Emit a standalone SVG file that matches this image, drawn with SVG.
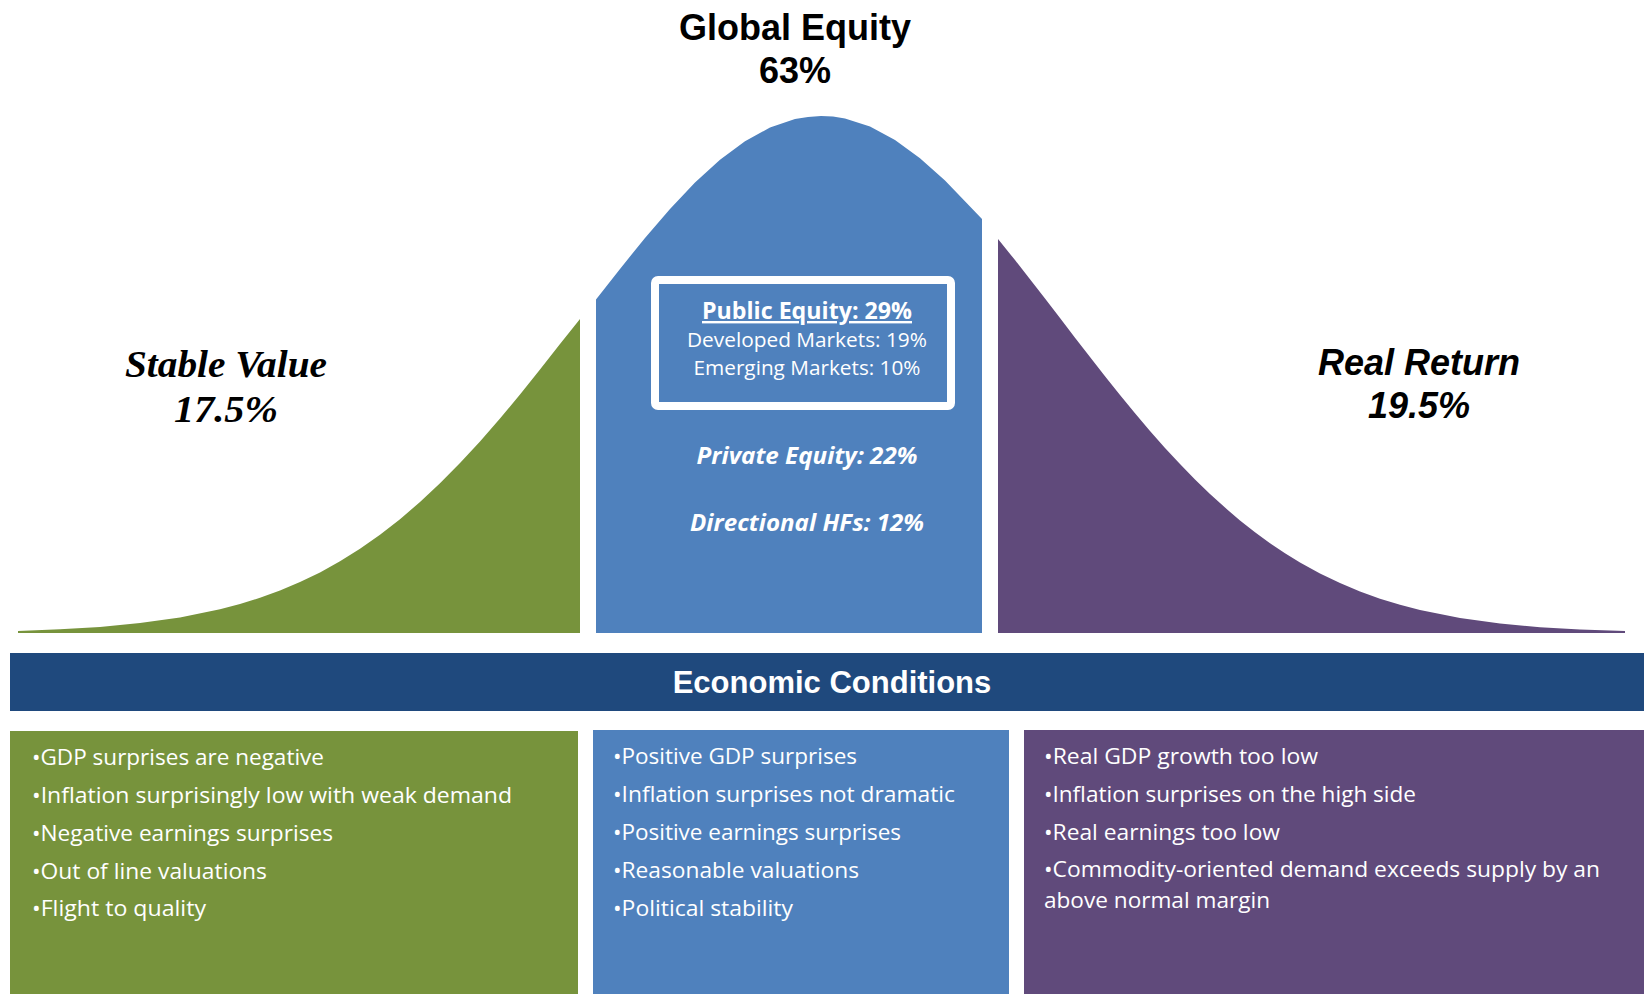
<svg xmlns="http://www.w3.org/2000/svg" width="1644" height="994" viewBox="0 0 1644 994">
<style>
.green{fill:#77933C}
.blue{fill:#4F81BD}
.purple{fill:#604A7B}
.band{fill:#1F497D}
.hdr{font-family:"Liberation Sans",Arial,sans-serif;font-weight:bold;font-size:36px;fill:#000;text-anchor:middle}
.hdri{font-family:"Liberation Sans",Arial,sans-serif;font-weight:bold;font-style:italic;font-size:36px;fill:#000;text-anchor:middle}
.hdrs{font-family:"Liberation Serif","Times New Roman",serif;font-weight:bold;font-style:italic;font-size:38px;fill:#000;text-anchor:middle}
.band-t{font-family:"Liberation Sans",Arial,sans-serif;font-weight:bold;font-size:31px;fill:#fff;text-anchor:middle}
.in{font-family:"Open Sans","Noto Sans",sans-serif;fill:#fff;text-anchor:middle}
.bul{font-family:"Open Sans","Noto Sans",sans-serif;font-size:22px;fill:#fff}
</style>
<rect width="1644" height="994" fill="#fff"/>

<g id="stable-value">
<path class="green" d="M18,631 L60,629.3 L100,626.9 L140,623.1 L180,617.5 L220,609.3 L240,604.1 L260,597.8 L280,590.5 L300,582 L320,572.4 L340,561.3 L360,548.8 L380,534.7 L400,519.2 L420,502 L440,483.3 L460,463.1 L480,441.4 L500,418.5 L520,394.5 L540,369.5 L560,344 L580,319 L580,633 L18,633 Z"/>
<text class="hdrs" x="226" y="377" textLength="202" lengthAdjust="spacingAndGlyphs">Stable Value</text>
<text class="hdrs" x="226" y="422" textLength="104" lengthAdjust="spacingAndGlyphs">17.5%</text>
</g>

<g id="global-equity">
<path class="blue" d="M596,633 L596,299.5 L608,284.2 L620,268.9 L645,237.9 L670,208.9 L695,182.5 L720,159.8 L745,141.3 L770,127.5 L795,119 L808,117 L821,116 L833,116.6 L845,118.6 L870,126.6 L895,140 L920,158.2 L945,180.6 L970,206.6 L982,219 L982,633 Z"/>
<text class="hdr" x="795" y="40">Global Equity</text>
<text class="hdr" x="795" y="83">63%</text>
<rect x="655" y="280" width="296" height="126" rx="3" fill="none" stroke="#fff" stroke-width="8"/>
<text class="in" x="807" y="319" font-size="24" font-weight="bold" text-decoration="underline" textLength="210" lengthAdjust="spacingAndGlyphs">Public Equity: 29%</text>
<text class="in" x="807" y="347" font-size="20.5" textLength="240" lengthAdjust="spacingAndGlyphs">Developed Markets: 19%</text>
<text class="in" x="807" y="375" font-size="20.5" textLength="227" lengthAdjust="spacingAndGlyphs">Emerging Markets: 10%</text>
<text class="in" x="807" y="464" font-size="23" font-weight="bold" font-style="italic" textLength="221" lengthAdjust="spacingAndGlyphs">Private Equity: 22%</text>
<text class="in" x="807" y="531" font-size="23" font-weight="bold" font-style="italic" textLength="234" lengthAdjust="spacingAndGlyphs">Directional HFs: 12%</text>
</g>

<g id="real-return">
<path class="purple" d="M998,239 L1015,260.1 L1030,279.2 L1045,298.6 L1060,318.1 L1075,337.7 L1090,357.1 L1105,376.3 L1120,395.1 L1135,413.3 L1150,431 L1165,447.9 L1180,464.1 L1195,479.5 L1210,494 L1225,507.6 L1240,520.4 L1255,532.2 L1270,543.2 L1285,553.2 L1300,562.4 L1320,573.4 L1340,583.1 L1360,591.5 L1380,598.7 L1400,604.8 L1420,610 L1460,618.1 L1500,623.5 L1540,627.2 L1580,629.5 L1625,631 L1625,633 L998,633 Z"/>
<text class="hdri" x="1419" y="375">Real Return</text>
<text class="hdri" x="1419" y="418">19.5%</text>
</g>

<g id="economic-conditions">
<rect class="band" x="10" y="653" width="1634" height="58"/>
<text class="band-t" x="832" y="693">Economic Conditions</text>
</g>

<g id="conditions-stable">
<rect class="green" x="10" y="731" width="568" height="263"/>
<text class="bul" x="32" y="765" textLength="292" lengthAdjust="spacingAndGlyphs">•GDP surprises are negative</text>
<text class="bul" x="32" y="803" textLength="480" lengthAdjust="spacingAndGlyphs">•Inflation surprisingly low with weak demand</text>
<text class="bul" x="32" y="841" textLength="301" lengthAdjust="spacingAndGlyphs">•Negative earnings surprises</text>
<text class="bul" x="32" y="879" textLength="235" lengthAdjust="spacingAndGlyphs">•Out of line valuations</text>
<text class="bul" x="32" y="916" textLength="174" lengthAdjust="spacingAndGlyphs">•Flight to quality</text>
</g>

<g id="conditions-equity">
<rect class="blue" x="593" y="730" width="416" height="264"/>
<text class="bul" x="613" y="764" textLength="244" lengthAdjust="spacingAndGlyphs">•Positive GDP surprises</text>
<text class="bul" x="613" y="802" textLength="342" lengthAdjust="spacingAndGlyphs">•Inflation surprises not dramatic</text>
<text class="bul" x="613" y="840" textLength="288" lengthAdjust="spacingAndGlyphs">•Positive earnings surprises</text>
<text class="bul" x="613" y="878" textLength="246" lengthAdjust="spacingAndGlyphs">•Reasonable valuations</text>
<text class="bul" x="613" y="916" textLength="180" lengthAdjust="spacingAndGlyphs">•Political stability</text>
</g>

<g id="conditions-real">
<rect class="purple" x="1024" y="730" width="620" height="264"/>
<text class="bul" x="1044" y="764" textLength="274" lengthAdjust="spacingAndGlyphs">•Real GDP growth too low</text>
<text class="bul" x="1044" y="802" textLength="372" lengthAdjust="spacingAndGlyphs">•Inflation surprises on the high side</text>
<text class="bul" x="1044" y="840" textLength="236" lengthAdjust="spacingAndGlyphs">•Real earnings too low</text>
<text class="bul" x="1044" y="877" textLength="556" lengthAdjust="spacingAndGlyphs">•Commodity-oriented demand exceeds supply by an</text>
<text class="bul" x="1044" y="908" textLength="226" lengthAdjust="spacingAndGlyphs">above normal margin</text>
</g>

<g id="connectors"/>
</svg>
